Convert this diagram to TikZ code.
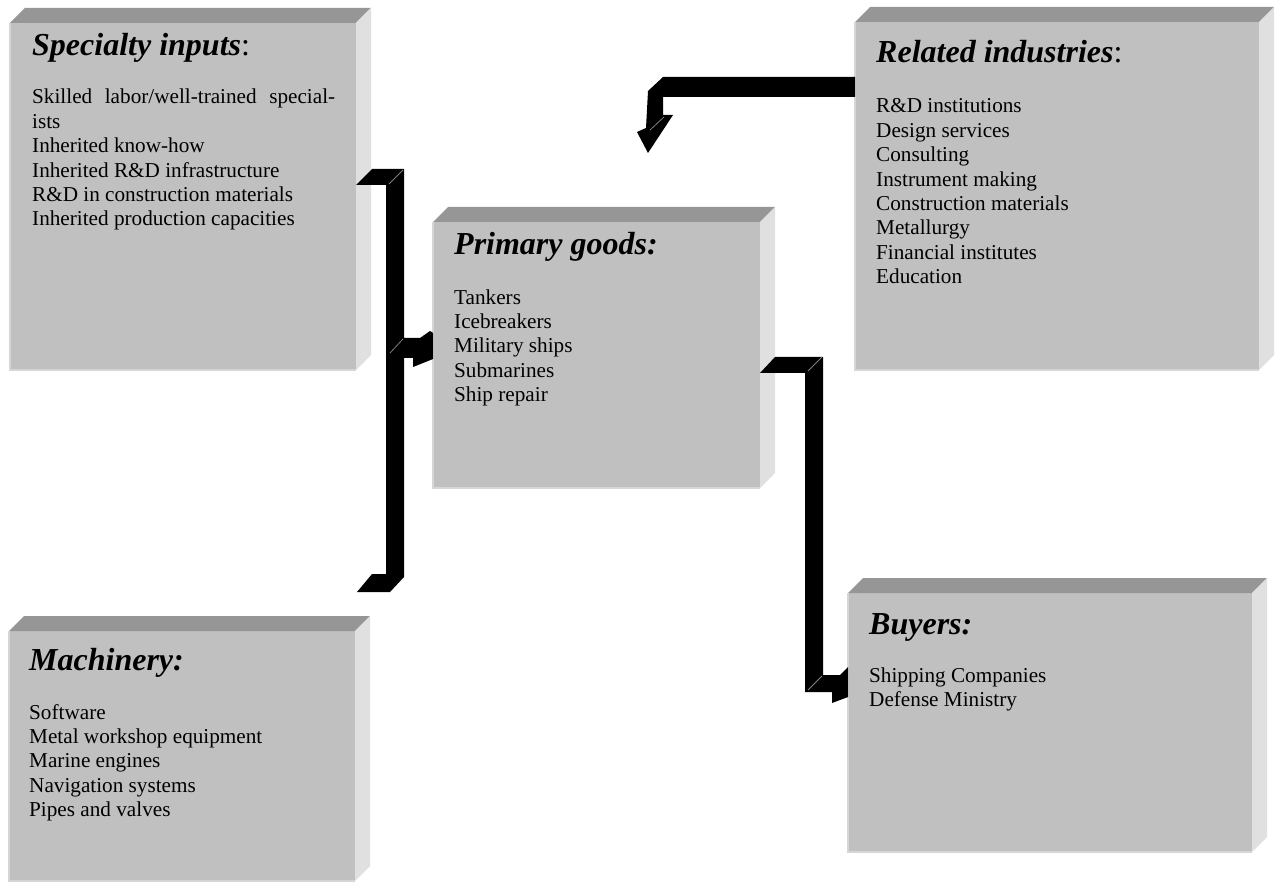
\documentclass[tikz,border=0pt]{standalone}
\usepackage{fontspec}
\setmainfont{Liberation Serif}
\definecolor{facegray}{HTML}{C0C0C0}
\definecolor{topgray}{HTML}{969696}
\definecolor{sidegray}{HTML}{E0E0E0}
\definecolor{edgegray}{HTML}{D6D6D6}
\begin{document}
\begin{tikzpicture}[x=1pt,y=-1pt,
  face/.style={fill=facegray,anchor=north west,inner sep=0,outer sep=0},
  heading/.style={anchor=base west,inner sep=0,font=\fontsize{32}{36}\selectfont\bfseries\itshape},
  items/.style={anchor=base west,inner sep=0,align=left,font=\fontsize{21.2}{24.4}\selectfont},
  pipe/.style={fill=black},
  glint/.style={draw=gray,line width=0.8pt}
  ]
  \useasboundingbox (0,0) rectangle (1280,882);
  % front faces
  \node[face,minimum width=346pt,minimum height=347pt] (spec) at (10,23) {};
  \node[face,minimum width=404pt,minimum height=348pt] (rel) at (855,22) {};
  \node[face,minimum width=327pt,minimum height=266pt] (prim) at (433,222) {};
  \node[face,minimum width=346pt,minimum height=250pt] (mach) at (9,631) {};
  \node[face,minimum width=404pt,minimum height=259pt] (buy) at (848,593) {};
  % top and side of each slab
  \foreach \b in {spec,rel,prim,mach,buy}{
    \fill[topgray] (\b.north west) -- ++(15,-15) -- ([shift={(15,-15)}]\b.north east) -- (\b.north east) -- cycle;
    \fill[sidegray] (\b.north east) -- ++(15,-15) -- ([shift={(15,-15)}]\b.south east) -- (\b.south east) -- cycle;
    \draw[edgegray,line width=1.5pt] (\b.north west) -- (\b.south west) -- (\b.south east);
  }
  % texts (item lists hang from the baseline of their last line)
  \node[heading] (spec-t) at ([shift={(22,33)}]spec.north west) {Specialty inputs\textnormal{:}};
  \node[items] (spec-l) at ([shift={(22,203)}]spec.north west)
    {\makebox[303pt][s]{Skilled labor/well-trained special-}\\ists\\Inherited know-how\\Inherited R\&D infrastructure\\R\&D in construction materials\\Inherited production capacities};
  \node[heading] (rel-t) at ([shift={(21,41)}]rel.north west) {Related industries\textnormal{:}};
  \node[items] (rel-l) at ([shift={(21,261.8)}]rel.north west)
    {R\&D institutions\\Design services\\Consulting\\Instrument making\\Construction materials\\Metallurgy\\Financial institutes\\Education};
  \node[heading] (prim-t) at ([shift={(21,33)}]prim.north west) {Primary goods:};
  \node[items] (prim-l) at ([shift={(21,179.6)}]prim.north west)
    {Tankers\\Icebreakers\\Military ships\\Submarines\\Ship repair};
  \node[heading] (mach-t) at ([shift={(20,39)}]mach.north west) {Machinery:};
  \node[items] (mach-l) at ([shift={(20,185.6)}]mach.north west)
    {Software\\Metal workshop equipment\\Marine engines\\Navigation systems\\Pipes and valves};
  \node[heading] (buy-t) at ([shift={(21,41)}]buy.north west) {Buyers:};
  \node[items] (buy-l) at ([shift={(21,113.4)}]buy.north west)
    {Shipping Companies\\Defense Ministry};
  % connectors
  \fill[pipe] (spec.north east) ++(0,162) -- ++(16,-16) -- ++(32,0) -- ++(0,169)
    -- ++(16,0) -- ++(10,-7) -- ++(3,2) -- ++(0,26) -- ++(-20,8) -- ++(0,-9) -- ++(-9,0)
    -- ++(0,219) -- ++(-14,15) -- ++(-33,0) -- ++(15,-18) -- ++(14,0) -- ++(0,-389) -- cycle;
  \fill[pipe] (prim.north east) ++(0,151) -- ++(15,-16) -- ++(48,0) -- ++(0,318)
    -- ++(17,0) -- ++(8,-8) -- ++(0,30) -- ++(-16,6) -- ++(0,-11) -- ++(-27,0) -- ++(0,-319) -- cycle;
  \fill[pipe] (rel.north west) ++(0,55) -- ++(-192,0) -- ++(-15,14) -- ++(-2,37)
    -- ++(-9,4) -- ++(11,21) -- ++(25,-38) -- ++(-10,0) -- ++(0,-18) -- ++(192,0) -- cycle;
  \draw[glint] (389,184) -- (403,170);
  \draw[glint] (390,353) -- (403,339);
  \draw[glint] (808,371) -- (822,357);
  \draw[glint] (808,690) -- (822,676);
  \draw[glint] (650,130) -- (664,117);
\end{tikzpicture}
\end{document}
